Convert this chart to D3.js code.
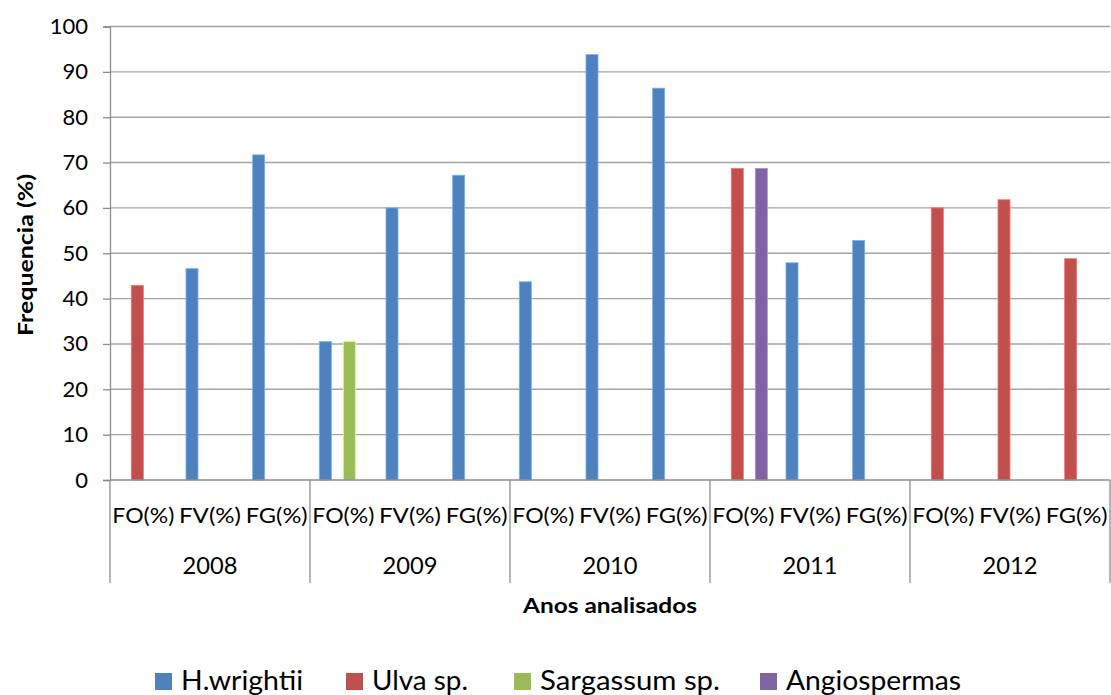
<!DOCTYPE html>
<html>
<head>
<meta charset="utf-8">
<script src="https://cdn.jsdelivr.net/npm/d3@7"></script>
<style>
  html, body { margin: 0; padding: 0; background: #fff; }
  svg { display: block; }
  text { font-family: Lato, "Open Sans", "Noto Sans", sans-serif; fill: #000; }
</style>
</head>
<body>
<svg id="chart" width="1111" height="695"></svg>
<script>
// Years and measures form the two-level category axis
const years = ["2008", "2009", "2010", "2011", "2012"];
const measures = ["FO(%)", "FV(%)", "FG(%)"];
const seriesNames = ["H.wrightii", "Ulva sp.", "Sargassum sp.", "Angiospermas"];
const seriesColors = ["#4F81BD", "#C0504D", "#9BBB59", "#8064A2"];
const yTicks = [0, 10, 20, 30, 40, 50, 60, 70, 80, 90, 100];

// Values per series, in year/measure order (null = no bar)
const hWrightii    = [null, 46.6, 71.7,  30.5, 60.0, 67.2,  43.7, 93.8, 86.4,  null, 47.9, 52.8,  null, null, null];
const ulva         = [42.9, null, null,  null, null, null,  null, null, null,  68.7, null, null,  60.0, 61.8, 48.8];
const sargassum    = [null, null, null,  30.5, null, null,  null, null, null,  null, null, null,  null, null, null];
const angiospermas = [null, null, null,  null, null, null,  null, null, null,  68.7, null, null,  null, null, null];
const seriesValues = [hWrightii, ulva, sargassum, angiospermas];

const svg = d3.select("#chart");
const plot = { left: 110, right: 1110, top: 26.5, bottom: 480 };

const keys = [];
years.forEach(y => measures.forEach(m => keys.push(y + "|" + m)));

const x = d3.scaleBand().domain(keys).range([plot.left, plot.right]).paddingInner(0).paddingOuter(0);
const xYear = d3.scaleBand().domain(years).range([plot.left, plot.right]);
const bw = x.bandwidth();
const xs = d3.scaleBand().domain(seriesNames).range([0, bw]).paddingInner(0).paddingOuter((bw / 12 - 4) / 2);
const y = d3.scaleLinear().domain([0, 100]).range([plot.bottom, plot.top]);

// Horizontal gridlines
svg.append("g").selectAll("line").data(yTicks.filter(d => d > 0)).join("line")
  .attr("x1", plot.left).attr("x2", plot.right)
  .attr("y1", d => y(d)).attr("y2", d => y(d))
  .attr("stroke", "#A3A3A3").attr("stroke-width", 1.4);

// Y axis
const yAxis = d3.axisLeft(y).tickValues(yTicks).tickSize(7).tickPadding(15);
const gy = svg.append("g").attr("transform", `translate(${plot.left},0)`).call(yAxis);
gy.select(".domain").attr("stroke", "#8C8C8C").attr("stroke-width", 1.3);
gy.selectAll(".tick line").attr("stroke", "#8C8C8C").attr("stroke-width", 1.3);
gy.selectAll(".tick text").attr("font-size", 22).attr("font-family", "Lato, sans-serif").attr("fill", "#000");

// Bars
seriesNames.forEach((name, si) => {
  const rows = keys.map((k, i) => ({ k, v: seriesValues[si][i] })).filter(d => d.v != null);
  svg.append("g").selectAll("rect").data(rows).join("rect")
    .attr("x", d => x(d.k) + xs(name))
    .attr("width", xs.bandwidth())
    .attr("y", d => y(d.v))
    .attr("height", d => y(0) - y(d.v))
    .attr("fill", seriesColors[si])
    .attr("stroke", d3.color(seriesColors[si]).brighter(0.9))
    .attr("stroke-width", 0.8);
});

// Category axis baseline and year separators
svg.append("line").attr("x1", plot.left).attr("x2", plot.right)
  .attr("y1", plot.bottom).attr("y2", plot.bottom)
  .attr("stroke", "#8C8C8C").attr("stroke-width", 1.4);
const seps = years.map(yr => xYear(yr)).concat([plot.right]);
svg.append("g").selectAll("line").data(seps).join("line")
  .attr("x1", d => d).attr("x2", d => d)
  .attr("y1", plot.bottom).attr("y2", 583)
  .attr("stroke", "#8C8C8C").attr("stroke-width", 1.3);

// Measure labels
svg.append("g").selectAll("text").data(keys).join("text")
  .attr("x", d => x(d) + bw / 2).attr("y", 523)
  .attr("text-anchor", "middle").attr("font-size", 21)
  .attr("textLength", 62).attr("lengthAdjust", "spacingAndGlyphs")
  .text(d => d.split("|")[1]);

// Year labels
svg.append("g").selectAll("text").data(years).join("text")
  .attr("x", d => xYear(d) + xYear.bandwidth() / 2).attr("y", 574)
  .attr("text-anchor", "middle").attr("font-size", 23)
  .attr("textLength", 55).attr("lengthAdjust", "spacingAndGlyphs")
  .text(d => d);

// Axis titles
svg.append("text").attr("x", 610).attr("y", 613).attr("text-anchor", "middle")
  .attr("font-size", 21).attr("font-weight", "bold")
  .attr("textLength", 174).attr("lengthAdjust", "spacingAndGlyphs")
  .text("Anos analisados");
svg.append("text").attr("transform", "translate(33,255) rotate(-90)").attr("text-anchor", "middle")
  .attr("font-size", 21).attr("font-weight", "bold")
  .attr("textLength", 162).attr("lengthAdjust", "spacingAndGlyphs")
  .text("Frequencia (%)");

// Legend
const legendX = [155, 346, 514, 760];
const legendW = [122, 96, 180, 175];
const lg = svg.append("g").selectAll("g").data(seriesNames).join("g")
  .attr("transform", (d, i) => `translate(${legendX[i]},673)`);
lg.append("rect").attr("width", 17).attr("height", 17).attr("y", 0)
  .attr("fill", (d, i) => seriesColors[i]);
lg.append("text").attr("x", 26).attr("y", 17).attr("font-size", 26)
  .attr("textLength", (d, i) => legendW[i]).attr("lengthAdjust", "spacingAndGlyphs")
  .text(d => d);
</script>
</body>
</html>
